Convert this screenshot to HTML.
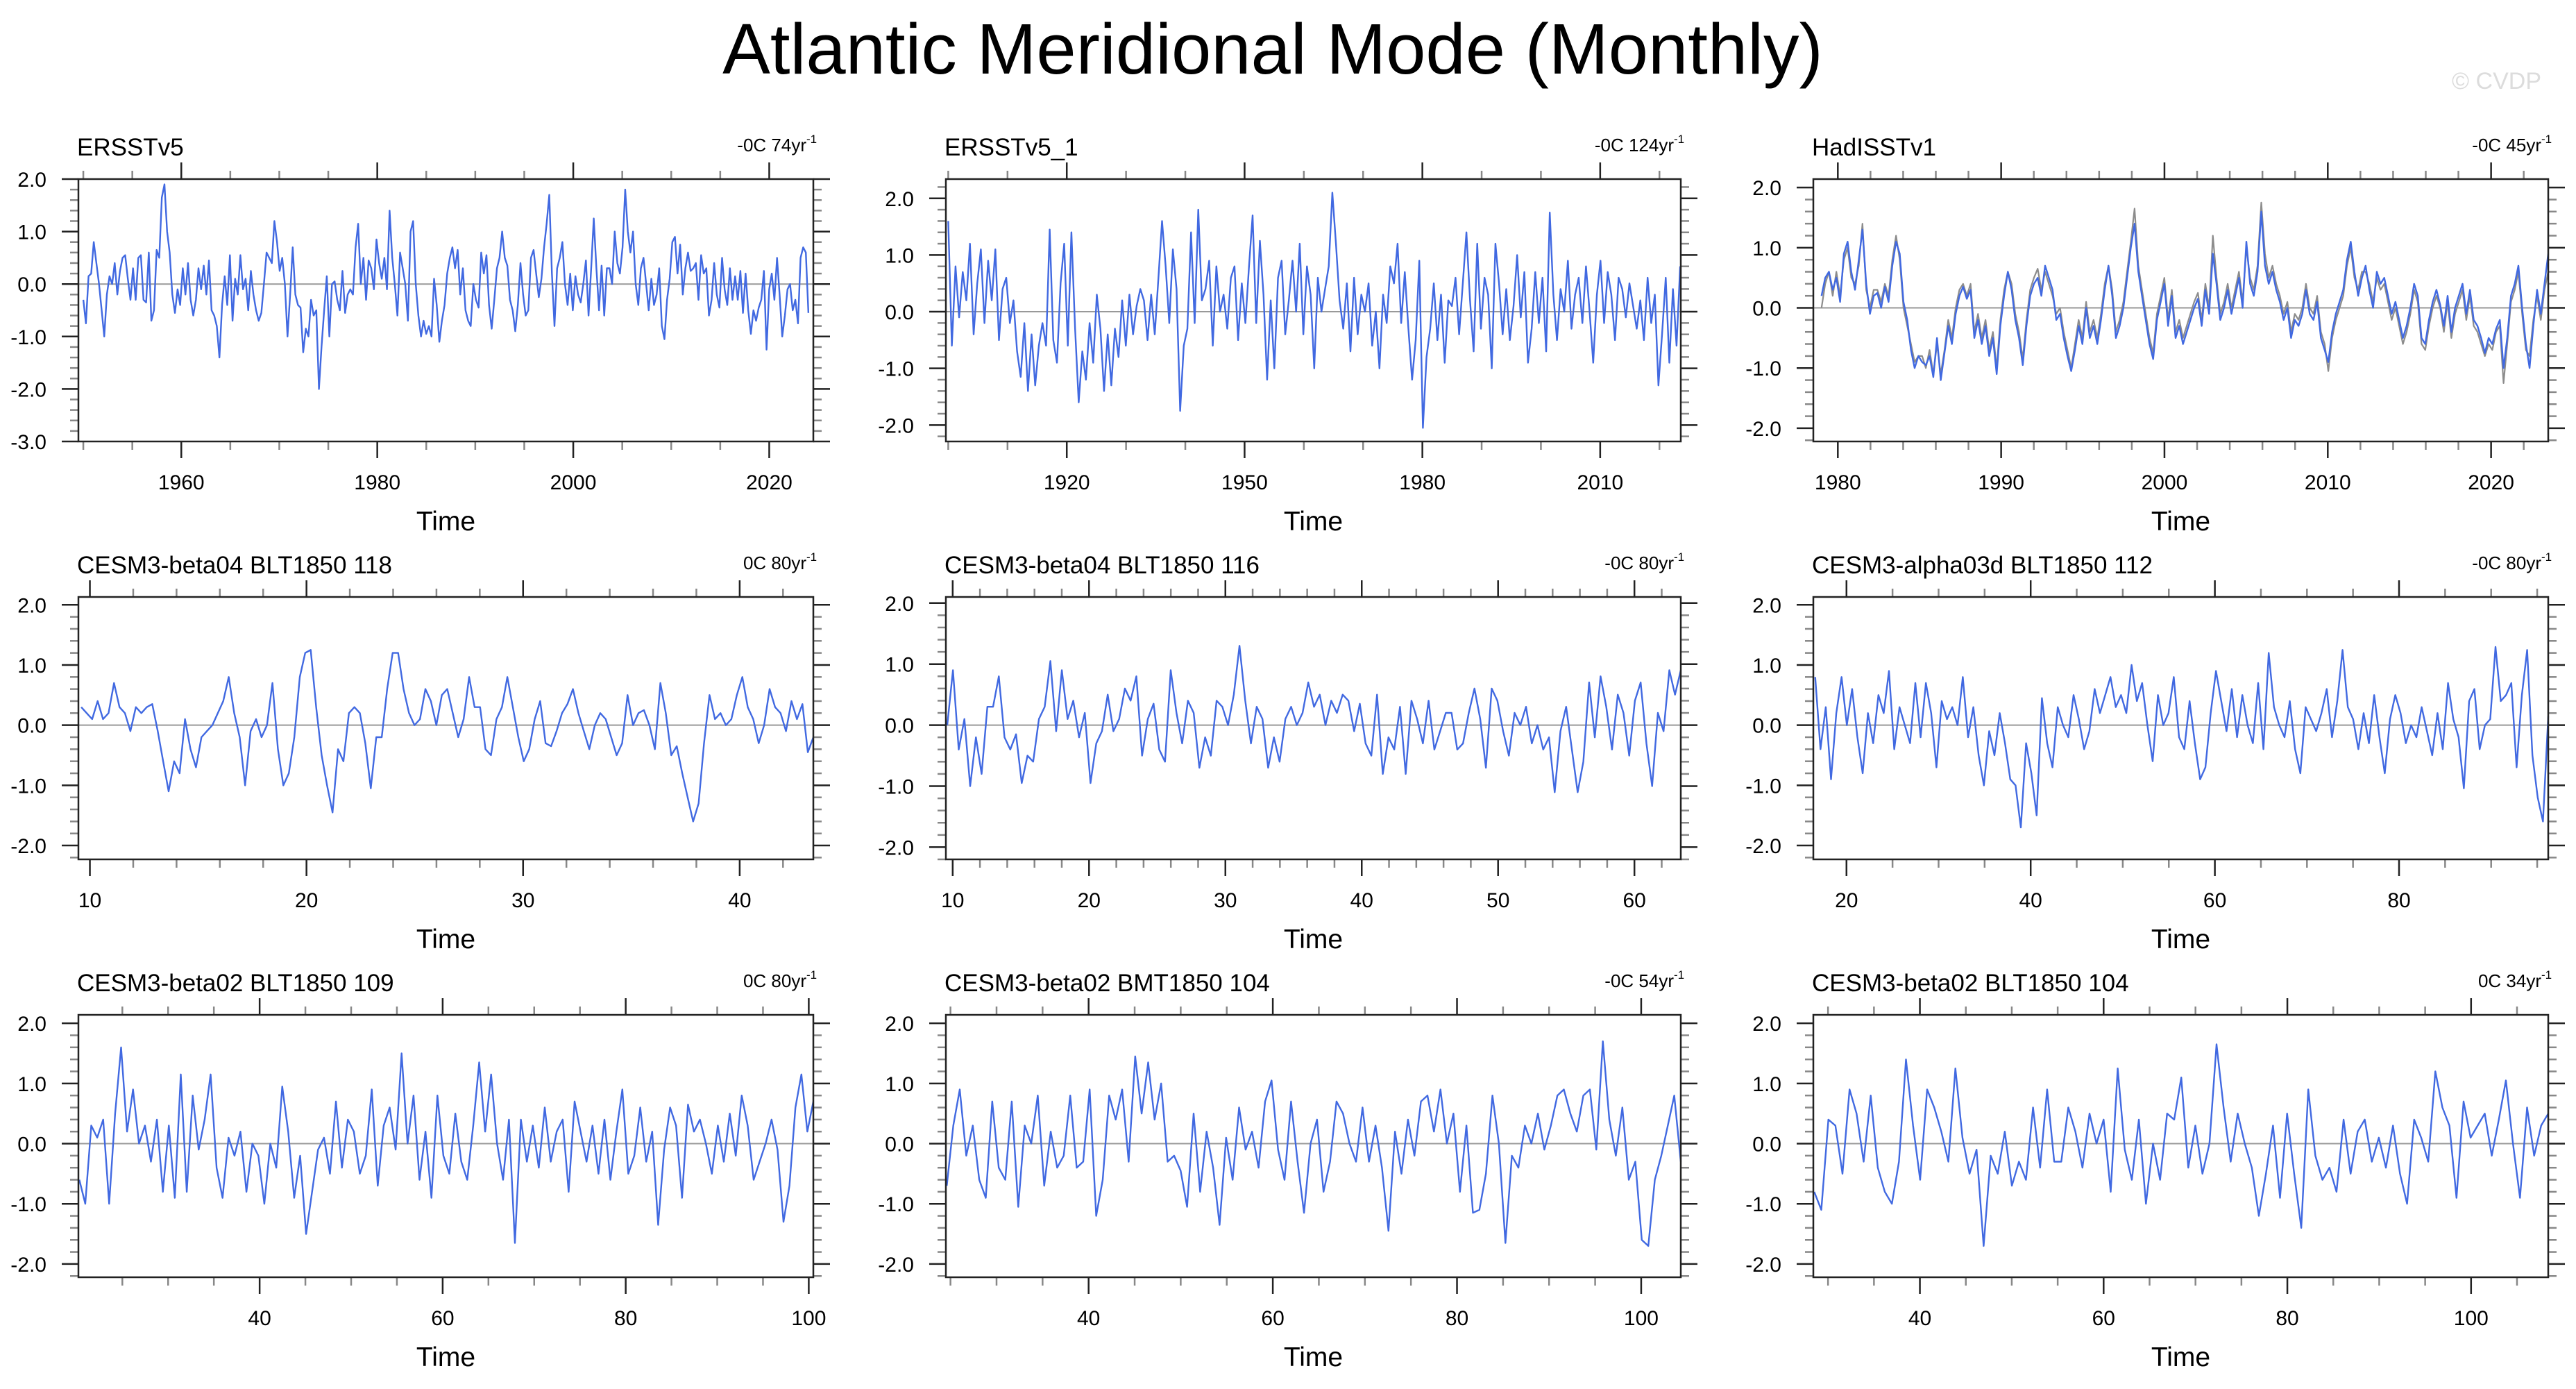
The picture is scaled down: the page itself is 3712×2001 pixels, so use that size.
<!DOCTYPE html>
<html><head><meta charset="utf-8"><title>Atlantic Meridional Mode (Monthly)</title>
<style>html,body{margin:0;padding:0;background:#fff}svg{display:block}text{font-family:"Liberation Sans",Arial,sans-serif}</style>
</head><body>
<svg id="fig" xmlns="http://www.w3.org/2000/svg" width="3712" height="2001" viewBox="0 0 3712 2001">
<rect width="3712" height="2001" fill="#fff"/>
<text x="1834" y="106" font-size="103" text-anchor="middle" fill="#000">Atlantic Meridional Mode (Monthly)</text>
<text x="3662" y="128" font-size="34" text-anchor="end" fill="#dcdcdc">© CVDP</text>
</svg>
<script>
// ---- data arrays ----
const p1Values=[-0.3,-0.75,0.15,0.2,0.8,0.4,0.0,-0.5,-1.0,-0.2,0.15,0.0,0.4,-0.2,0.25,0.5,0.55,0.1,-0.3,0.3,-0.3,0.5,0.55,-0.3,-0.35,0.6,-0.7,-0.5,0.65,0.5,1.65,1.9,1.0,0.6,-0.2,-0.55,-0.1,-0.4,0.3,-0.2,0.4,-0.3,-0.6,-0.3,0.3,-0.1,0.35,-0.2,0.45,-0.5,-0.6,-0.8,-1.4,-0.4,0.15,-0.4,0.55,-0.7,0.1,-0.2,0.55,-0.1,0.1,-0.5,0.25,-0.2,-0.5,-0.7,-0.55,0.0,0.6,0.5,0.4,1.2,0.8,0.25,0.5,0.0,-1.0,-0.2,0.7,-0.2,-0.4,-0.45,-1.3,-0.85,-1.0,-0.3,-0.6,-0.5,-2.0,-1.2,-0.5,0.15,-1.0,0.0,0.05,-0.3,-0.5,0.25,-0.55,-0.2,-0.1,-0.2,0.7,1.15,0.0,0.5,-0.3,0.45,0.3,-0.1,0.85,0.4,0.1,0.5,-0.1,1.4,0.5,0.0,-0.6,0.6,0.3,0.0,-0.7,1.0,1.2,0.0,-0.6,-1.0,-0.7,-0.95,-0.8,-1.0,0.1,-0.4,-1.1,-0.7,-0.4,0.2,0.5,0.7,0.3,0.65,-0.2,0.3,-0.5,-0.7,-0.8,0.0,-0.3,-0.45,0.6,0.2,0.55,-0.4,-0.85,-0.3,0.3,0.5,1.0,0.5,0.35,-0.3,-0.5,-0.9,-0.4,0.4,-0.2,-0.6,-0.5,0.5,0.65,0.2,-0.25,0.1,0.7,1.15,1.7,0.2,-0.8,0.3,0.5,0.8,0.0,-0.4,0.2,-0.5,0.15,-0.2,-0.35,0.0,0.45,-0.6,0.3,1.25,0.3,-0.5,0.35,-0.6,0.3,0.3,0.0,1.0,0.4,0.2,0.7,1.8,1.0,0.6,1.0,0.0,-0.4,0.3,0.5,0.0,-0.5,0.1,-0.4,-0.2,0.3,-0.8,-1.05,-0.3,0.1,0.8,0.9,0.2,0.75,-0.2,0.3,0.6,0.25,0.3,0.4,-0.3,0.55,0.2,0.3,-0.6,-0.3,0.4,-0.2,-0.45,0.5,-0.1,-0.4,0.3,-0.3,0.15,-0.3,0.25,-0.55,0.2,-0.5,-0.95,-0.5,-0.7,-0.45,-0.3,0.25,-1.25,-0.1,0.2,-0.3,0.5,-0.2,-1.0,-0.6,-0.1,0.0,-0.5,-0.3,-0.75,0.5,0.7,0.6,-0.55];
const p2Values=[1.6,-0.6,0.8,-0.1,0.7,0.2,1.2,-0.4,0.5,1.1,-0.2,0.9,0.2,1.1,-0.5,0.4,0.6,-0.2,0.2,-0.7,-1.15,-0.2,-1.4,-0.4,-1.3,-0.6,-0.2,-0.6,1.45,-0.5,-0.9,0.5,1.2,-0.6,1.4,-0.3,-1.6,-0.7,-1.2,-0.2,-0.9,0.3,-0.3,-1.4,-0.4,-1.3,-0.3,-0.8,0.2,-0.6,0.3,-0.4,0.1,0.4,0.2,-0.5,0.3,-0.4,0.6,1.6,0.8,-0.2,1.1,0.4,-1.75,-0.6,-0.3,1.4,-0.2,1.8,0.2,0.4,0.9,-0.6,0.8,0.0,0.3,-0.3,0.6,0.8,-0.5,0.5,-0.2,0.8,1.7,-0.2,1.25,0.3,-1.2,0.2,-1.0,0.6,0.9,-0.4,0.2,0.9,0.0,1.2,-0.4,0.8,0.3,-1.0,0.6,0.0,0.4,0.8,2.1,1.2,0.2,-0.3,0.5,-0.7,0.6,-0.4,0.3,0.0,0.5,-0.6,0.0,-1.0,0.3,-0.2,0.8,0.5,1.2,-0.2,0.7,-0.3,-1.2,-0.5,0.9,-2.05,-0.8,-0.3,0.5,-0.5,0.3,-0.9,0.2,0.1,0.6,-0.4,0.5,1.4,0.2,-0.7,1.2,-0.3,0.6,0.3,-1.0,1.2,0.5,-0.4,0.4,-0.5,0.1,1.0,-0.1,0.7,-0.9,-0.3,0.7,-0.2,0.6,-0.7,1.75,0.3,-0.5,0.4,0.0,0.9,-0.3,0.3,0.6,-0.2,0.8,0.0,-0.9,0.3,0.9,-0.2,0.7,0.3,-0.5,0.6,0.4,-0.1,0.5,0.1,-0.3,0.2,-0.5,0.6,-0.2,0.3,-1.3,-0.4,0.6,-0.9,0.4,-0.6,0.8];
const p3Values=[0.2,0.5,0.6,0.3,0.5,0.1,0.9,1.1,0.6,0.3,0.8,1.3,0.4,-0.1,0.2,0.25,0.0,0.35,0.1,0.7,1.1,0.9,0.1,-0.2,-0.7,-1.0,-0.8,-0.9,-0.95,-0.8,-1.15,-0.5,-1.2,-0.75,-0.3,-0.6,-0.1,0.2,0.35,0.15,0.3,-0.5,-0.2,-0.6,-0.3,-0.8,-0.5,-1.1,-0.3,0.2,0.6,0.3,-0.2,-0.5,-0.95,-0.3,0.2,0.4,0.5,0.2,0.7,0.5,0.3,-0.2,-0.1,-0.5,-0.8,-1.05,-0.7,-0.3,-0.6,0.0,-0.5,-0.3,-0.6,-0.2,0.3,0.7,0.2,-0.5,-0.3,0.0,0.5,1.0,1.4,0.6,0.2,-0.2,-0.6,-0.85,-0.2,0.1,0.4,-0.3,0.2,-0.5,-0.3,-0.6,-0.4,-0.2,0.0,0.15,-0.3,0.3,-0.1,0.9,0.4,-0.2,0.0,0.3,-0.1,0.2,0.5,0.0,1.1,0.4,0.2,0.6,1.6,0.7,0.4,0.6,0.3,0.1,-0.2,0.0,-0.5,-0.2,-0.3,-0.1,0.3,-0.1,-0.2,0.1,-0.5,-0.7,-0.9,-0.4,-0.1,0.1,0.3,0.8,1.1,0.6,0.2,0.5,0.7,0.3,0.0,0.6,0.4,0.5,0.2,-0.1,0.1,-0.2,-0.5,-0.3,0.0,0.4,0.2,-0.5,-0.6,-0.2,0.1,0.3,0.05,-0.3,0.2,-0.4,0.0,0.2,0.4,-0.1,0.3,-0.2,-0.3,-0.5,-0.75,-0.5,-0.6,-0.35,-0.2,-1.0,-0.5,0.2,0.4,0.7,0.0,-0.6,-1.0,-0.3,0.3,-0.1,0.4,0.9];
const p3GrayValues=[0.0,0.4,0.6,0.2,0.6,0.2,0.8,1.0,0.5,0.4,0.7,1.4,0.3,0.0,0.3,0.3,0.1,0.4,0.2,0.8,1.2,0.8,0.0,-0.3,-0.6,-0.9,-0.8,-0.8,-1.0,-0.7,-1.1,-0.6,-1.1,-0.7,-0.2,-0.5,0.0,0.3,0.4,0.2,0.4,-0.4,-0.1,-0.5,-0.2,-0.7,-0.4,-1.0,-0.2,0.3,0.6,0.4,-0.1,-0.4,-0.85,-0.2,0.3,0.5,0.65,0.3,0.6,0.4,0.2,-0.1,0.0,-0.4,-0.7,-1.0,-0.6,-0.2,-0.5,0.1,-0.4,-0.2,-0.5,-0.1,0.4,0.7,0.3,-0.4,-0.2,0.1,0.6,1.1,1.65,0.7,0.3,-0.1,-0.5,-0.75,-0.1,0.2,0.5,-0.2,0.3,-0.4,-0.2,-0.5,-0.3,-0.1,0.1,0.25,-0.2,0.4,0.0,1.2,0.5,-0.1,0.1,0.4,0.0,0.3,0.6,0.1,1.0,0.5,0.3,0.7,1.75,0.9,0.5,0.7,0.4,0.2,-0.1,0.1,-0.4,-0.1,-0.2,0.0,0.4,0.0,-0.1,0.2,-0.4,-0.6,-1.05,-0.5,-0.2,0.0,0.2,0.7,1.0,0.5,0.3,0.6,0.6,0.4,0.1,0.5,0.3,0.4,0.1,-0.2,0.0,-0.3,-0.6,-0.4,-0.1,0.3,0.1,-0.6,-0.7,-0.3,0.0,0.2,0.0,-0.4,0.1,-0.5,-0.1,0.1,0.3,-0.2,0.2,-0.3,-0.4,-0.6,-0.8,-0.6,-0.7,-0.4,-0.3,-1.25,-0.6,0.1,0.3,0.6,-0.1,-0.7,-0.8,-0.2,0.2,-0.2,0.3,0.6];
const p4Values=[0.3,0.2,0.1,0.4,0.1,0.2,0.7,0.3,0.2,-0.1,0.3,0.2,0.3,0.35,-0.1,-0.6,-1.1,-0.6,-0.8,0.1,-0.4,-0.7,-0.2,-0.1,0.0,0.2,0.4,0.8,0.2,-0.2,-1.0,-0.1,0.1,-0.2,0.0,0.7,-0.4,-1.0,-0.8,-0.2,0.8,1.2,1.25,0.3,-0.5,-1.0,-1.45,-0.4,-0.6,0.2,0.3,0.2,-0.3,-1.05,-0.2,-0.2,0.6,1.2,1.2,0.6,0.2,0.0,0.1,0.6,0.4,0.0,0.5,0.6,0.2,-0.2,0.1,0.8,0.3,0.3,-0.4,-0.5,0.1,0.3,0.8,0.3,-0.2,-0.6,-0.4,0.1,0.4,-0.3,-0.35,-0.1,0.2,0.35,0.6,0.2,-0.1,-0.4,0.0,0.2,0.1,-0.2,-0.5,-0.3,0.5,0.0,0.2,0.25,0.0,-0.4,0.7,0.2,-0.5,-0.35,-0.8,-1.2,-1.6,-1.3,-0.3,0.5,0.1,0.2,0.0,0.1,0.5,0.8,0.3,0.1,-0.3,0.0,0.6,0.3,0.2,-0.1,0.4,0.1,0.35,-0.45,-0.2];
const p5Values=[0.0,0.9,-0.4,0.1,-1.0,-0.2,-0.8,0.3,0.3,0.8,-0.2,-0.4,-0.15,-0.95,-0.5,-0.6,0.1,0.3,1.05,-0.1,0.9,0.1,0.4,-0.2,0.2,-0.95,-0.3,-0.1,0.5,-0.1,0.1,0.6,0.4,0.8,-0.5,0.1,0.35,-0.4,-0.6,0.9,0.2,-0.3,0.4,0.2,-0.7,-0.2,-0.5,0.4,0.3,0.0,0.5,1.3,0.4,-0.3,0.3,0.1,-0.7,-0.2,-0.6,0.1,0.3,0.0,0.2,0.7,0.3,0.5,0.0,0.4,0.2,0.5,0.4,-0.1,0.35,-0.3,-0.5,0.5,-0.8,-0.2,-0.4,0.3,-0.8,0.4,0.1,-0.3,0.4,-0.4,-0.1,0.2,0.2,-0.4,-0.3,0.2,0.6,0.1,-0.7,0.6,0.4,-0.1,-0.5,0.2,0.0,0.3,-0.3,0.0,-0.4,-0.2,-1.1,-0.1,0.3,-0.4,-1.1,-0.6,0.7,-0.2,0.8,0.3,-0.4,0.5,0.2,-0.5,0.4,0.7,-0.3,-1.0,0.2,-0.1,0.9,0.5,0.9];
const p6Values=[0.8,-0.4,0.3,-0.9,0.2,0.8,0.0,0.6,-0.2,-0.8,0.2,-0.3,0.5,0.2,0.9,-0.4,0.3,0.0,-0.3,0.7,-0.2,0.7,0.2,-0.7,0.4,0.1,0.3,0.0,0.8,-0.2,0.3,-0.5,-1.0,-0.1,-0.5,0.2,-0.3,-0.9,-1.0,-1.7,-0.3,-0.8,-1.5,0.45,-0.3,-0.7,0.3,0.0,-0.2,0.5,0.1,-0.4,-0.1,0.6,0.2,0.5,0.8,0.3,0.5,0.2,1.0,0.4,0.7,0.0,-0.6,0.5,0.0,0.2,0.8,-0.2,-0.4,0.4,-0.3,-0.9,-0.7,0.2,0.9,0.4,-0.1,0.6,-0.2,0.5,0.0,-0.3,0.7,-0.4,1.2,0.3,0.0,-0.2,0.4,-0.4,-0.8,0.3,0.1,-0.1,0.2,0.6,-0.2,0.4,1.25,0.3,0.1,-0.4,0.2,-0.3,0.5,-0.2,-0.8,0.1,0.5,0.2,-0.3,0.0,-0.2,0.3,-0.1,-0.5,0.2,-0.4,0.7,0.1,-0.2,-1.05,0.4,0.6,-0.4,0.0,0.1,1.3,0.4,0.5,0.7,-0.7,0.5,1.25,-0.5,-1.2,-1.6,0.15];
const p7Values=[-0.6,-1.0,0.3,0.1,0.4,-1.0,0.5,1.6,0.2,0.9,0.0,0.3,-0.3,0.4,-0.8,0.3,-0.9,1.15,-0.8,0.8,-0.1,0.4,1.15,-0.4,-0.9,0.1,-0.2,0.2,-0.8,0.0,-0.2,-1.0,0.0,-0.4,0.95,0.2,-0.9,-0.2,-1.5,-0.8,-0.1,0.1,-0.5,0.7,-0.4,0.4,0.2,-0.5,-0.2,0.9,-0.7,0.3,0.6,-0.1,1.5,0.0,0.8,-0.6,0.2,-0.9,0.8,-0.2,-0.5,0.5,-0.3,-0.6,0.3,1.35,0.2,1.15,0.0,-0.6,0.4,-1.65,0.4,-0.3,0.3,-0.4,0.6,-0.3,0.2,0.4,-0.8,0.7,0.2,-0.3,0.3,-0.5,0.4,-0.6,0.2,0.9,-0.5,-0.2,0.6,-0.3,0.2,-1.35,-0.1,0.6,0.3,-0.9,0.65,0.2,0.4,0.0,-0.5,0.3,-0.3,0.5,-0.2,0.8,0.3,-0.6,-0.3,0.0,0.4,-0.1,-1.3,-0.7,0.6,1.15,0.2,0.7];
const p8Values=[-0.7,0.3,0.9,-0.2,0.3,-0.6,-0.9,0.7,-0.4,-0.6,0.7,-1.05,0.3,0.0,0.8,-0.7,0.2,-0.4,-0.2,0.8,-0.4,-0.3,0.9,-1.2,-0.6,0.8,0.4,0.9,-0.3,1.45,0.5,1.35,0.4,1.0,-0.3,-0.2,-0.45,-1.05,0.5,-0.8,0.2,-0.4,-1.35,0.1,-0.6,0.6,-0.1,0.2,-0.4,0.7,1.05,-0.1,-0.6,0.7,-0.3,-1.15,0.0,0.4,-0.8,-0.3,0.7,0.5,0.0,-0.3,0.6,-0.3,0.3,-0.4,-1.45,0.2,-0.5,0.4,-0.2,0.7,0.8,0.2,0.9,0.0,0.5,-0.8,0.3,-1.15,-1.1,-0.5,0.8,0.0,-1.65,-0.2,-0.4,0.3,0.0,0.5,-0.1,0.3,0.8,0.9,0.5,0.2,0.8,0.9,-0.1,1.7,0.4,-0.2,0.6,-0.6,-0.3,-1.6,-1.7,-0.6,-0.2,0.3,0.8,-0.3];
const p9Values=[-0.8,-1.1,0.4,0.3,-0.5,0.9,0.5,-0.3,0.8,-0.4,-0.8,-1.0,-0.3,1.4,0.3,-0.6,0.9,0.6,0.2,-0.3,1.25,0.1,-0.5,-0.1,-1.7,-0.2,-0.5,0.2,-0.7,-0.3,-0.6,0.6,-0.4,0.9,-0.3,-0.3,0.6,0.2,-0.4,0.5,0.0,0.4,-0.8,1.25,-0.1,-0.6,0.4,-1.0,0.0,-0.6,0.5,0.4,1.1,-0.4,0.3,-0.5,0.0,1.65,0.6,-0.3,0.5,0.0,-0.4,-1.2,-0.5,0.3,-0.9,0.5,-0.5,-1.4,0.9,-0.2,-0.6,-0.4,-0.8,0.4,-0.5,0.2,0.4,-0.3,0.1,-0.4,0.3,-0.5,-1.0,0.4,0.1,-0.3,1.2,0.6,0.3,-0.9,0.7,0.1,0.3,0.5,-0.2,0.4,1.05,0.0,-0.9,0.6,-0.2,0.3,0.5];
const panelTitles=["ERSSTv5","ERSSTv5_1","HadISSTv1","CESM3-beta04 BLT1850 118","CESM3-beta04 BLT1850 116","CESM3-alpha03d BLT1850 112","CESM3-beta02 BLT1850 109","CESM3-beta02 BMT1850 104","CESM3-beta02 BLT1850 104"];
const trendLabels=["-0C 74yr","-0C 124yr","-0C 45yr","0C 80yr","-0C 80yr","-0C 80yr","0C 80yr","-0C 54yr","0C 34yr"];
const dataStart=[1950,1900,1979,9.6,9.6,16.6,20.3,24.6,28.5];
const dataEnd=[2024,2023.5,2023.5,43.4,63.4,96.2,100.5,104.3,108.4];
const xMin=[1949.5,1899.6,1978.5,9.47,9.5,16.4,20.2,24.5,28.4];
const xMax=[2024.5,2023.6,2023.5,43.4,63.4,96.2,100.5,104.3,108.4];
const yMin=[-3.0,-2.29,-2.22,-2.23,-2.2,-2.23,-2.22,-2.22,-2.22];
const yMax=[2.0,2.34,2.14,2.13,2.1,2.13,2.14,2.14,2.14];
const xMajor=[20,30,10,10,10,20,20,20,20];
const xMinor=[5,10,2,2,2,5,5,5,5];
const seriesList=[p1Values,p2Values,p3Values,p4Values,p5Values,p6Values,p7Values,p8Values,p9Values];

// ---- layout ----
const NS="http://www.w3.org/2000/svg";
const svg=document.getElementById('fig');
const colLeft=[113,1363,2613], rowTop=[258,860,1462], PW=1059, PH=378;
function mk(tag,attrs,parent){const e=document.createElementNS(NS,tag);for(const k in attrs)e.setAttribute(k,attrs[k]);parent.appendChild(e);return e;}
function fmt(v){return v.toFixed(1).replace('-0.0','0.0');}

for(let p=0;p<9;p++){
  const L=colLeft[p%3], T=rowTop[Math.floor(p/3)], R=L+PW, B=T+PH;
  const g=mk('g',{},svg);
  
  
  const sx=v=>L+(v-xMin[p])/(xMax[p]-xMin[p])*PW;
  const sy=v=>B-(v-yMin[p])/(yMax[p]-yMin[p])*PH;
  const y0=Math.ceil(yMin[p]/0.2-1e-6), y1=Math.floor(yMax[p]/0.2+1e-6);
  for(let k=y0;k<=y1;k++){
    const v=k*0.2, y=sy(v), major=Math.abs(v-Math.round(v))<1e-6, len=major?24:12;
    const c=major?'#222':'#888';
    const tl=mk('line',{x1:L-len,x2:L,y1:y,y2:y,stroke:c,'stroke-width':2.5},g);
    
    
    const tr=mk('line',{x1:R,x2:R+len,y1:y,y2:y,stroke:c,'stroke-width':2.5},g);
    
    
    if(major){
      const t=mk('text',{x:L-46,y:y+11,'font-size':30,'text-anchor':'end',fill:'#000'},g);
      t.textContent=fmt(Math.round(v));
      
      
    }
  }
  const xs=Math.ceil(xMin[p]/xMinor[p]-1e-6), xe=Math.floor(xMax[p]/xMinor[p]+1e-6);
  for(let k=xs;k<=xe;k++){
    const v=k*xMinor[p], x=sx(v), major=Math.abs(v/xMajor[p]-Math.round(v/xMajor[p]))<1e-6, len=major?24:12;
    const c=major?'#222':'#888';
    const tb=mk('line',{x1:x,x2:x,y1:B,y2:B+len,stroke:c,'stroke-width':2.5},g);
    
    
    const tt=mk('line',{x1:x,x2:x,y1:T-len,y2:T,stroke:c,'stroke-width':2.5},g);
    
    
    if(major){
      const t=mk('text',{x:x,y:B+69,'font-size':30,'text-anchor':'middle',fill:'#000'},g);
      t.textContent=String(Math.round(v));
      
      
    }
  }
  const zl=mk('line',{x1:L,x2:R,y1:sy(0),y2:sy(0),stroke:'#999','stroke-width':2},g);
  
  
  function drawSeries(vals,color,w,name){
    const n=vals.length, pts=[];
    for(let i=0;i<n;i++){const t=dataStart[p]+(dataEnd[p]-dataStart[p])*i/(n-1);pts.push(sx(t).toFixed(1)+','+sy(vals[i]).toFixed(1));}
    const pl=mk('polyline',{points:pts.join(' '),fill:'none',stroke:color,'stroke-width':w,'stroke-linejoin':'round'},g);
    
    
  }
  if(p===2) drawSeries(p3GrayValues,'#8c8c8c',2.2,'obs-overlay-line');
  drawSeries(seriesList[p],'#4169e1',2.4,'amm-timeseries-line');
  const fr=mk('rect',{x:L,y:T,width:PW,height:PH,fill:'none',stroke:'#222','stroke-width':2.5},g);
  
  
  const ti=mk('text',{x:L-2,y:T-34,'font-size':35,fill:'#000'},g);
  ti.textContent=panelTitles[p];
  
  
  const tr=mk('text',{x:R-10,y:T-40,'font-size':26,'text-anchor':'end',fill:'#000'},g);
  tr.textContent=trendLabels[p];
  
  
  const sup=mk('text',{x:R-10,y:T-52,'font-size':17,fill:'#000'},g);
  sup.textContent='-1';
  
  
  const xt=mk('text',{x:(L+R)/2,y:B+128,'font-size':39,'text-anchor':'middle',fill:'#000'},g);
  xt.textContent='Time';
  
  
}
</script>
</body></html>
